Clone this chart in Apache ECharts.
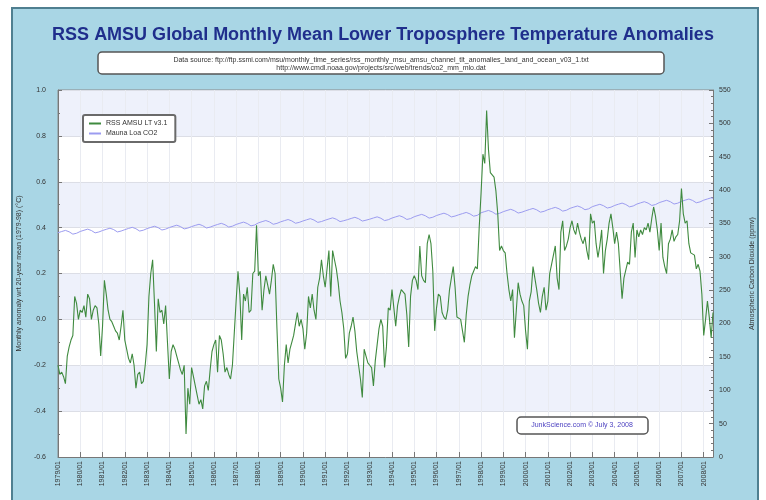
<!DOCTYPE html>
<html>
<head>
<meta charset="utf-8">
<script src="https://cdn.jsdelivr.net/npm/echarts@6.0.0/dist/echarts.min.js"></script>
<style>
	html, body {margin: 0; padding: 0; background: #ffffff;}
	#chart {width: 766px; height: 500px;}
</style>
</head>
<body>
<div id="chart"></div>
<script>
// years shown on the x axis (one category per month, Jan 1979 .. Jun 2008)
var years = [1979, 1980, 1981, 1982, 1983, 1984, 1985, 1986, 1987, 1988, 1989, 1990, 1991, 1992, 1993,
	1994, 1995, 1996, 1997, 1998, 1999, 2000, 2001, 2002, 2003, 2004, 2005, 2006, 2007, 2008];
var months = ['01', '02', '03', '04', '05', '06', '07', '08', '09', '10', '11', '12'];
var lastMonth = 6;

// RSS lower troposphere anomaly, deg C
var rss = [
	-0.20, -0.24, -0.23, -0.25, -0.28, -0.16, -0.12, -0.09, -0.07, 0.10, 0.07, 0.00,
	0.04, 0.03, 0.06, 0.01, 0.11, 0.09, 0.00, 0.04, 0.06, 0.05, -0.02, -0.16,
	-0.03, 0.17, 0.11, 0.04, 0.00, -0.01, -0.03, -0.05, -0.06, -0.09, -0.03, 0.04,
	-0.09, -0.13, -0.17, -0.19, -0.15, -0.20, -0.30, -0.24, -0.23, -0.28, -0.27, -0.20,
	-0.11, 0.10, 0.20, 0.26, 0.07, -0.14, 0.09, 0.03, 0.04, -0.02, 0.06, -0.10,
	-0.26, -0.14, -0.11, -0.13, -0.16, -0.19, -0.22, -0.24, -0.20, -0.50, -0.30, -0.37,
	-0.21, -0.25, -0.29, -0.33, -0.37, -0.35, -0.39, -0.29, -0.27, -0.31, -0.22, -0.14,
	-0.11, -0.09, -0.23, -0.07, -0.09, -0.15, -0.23, -0.21, -0.24, -0.26, -0.20, -0.06,
	0.08, 0.21, 0.11, -0.09, 0.11, 0.08, 0.14, 0.03, 0.04, 0.20, 0.21, 0.41,
	0.19, 0.21, 0.04, 0.13, 0.19, 0.15, 0.11, 0.17, 0.24, 0.20, -0.04, -0.26,
	-0.30, -0.36, -0.20, -0.11, -0.19, -0.13, -0.10, -0.07, -0.02, 0.03, -0.03, 0.00,
	-0.04, -0.13, -0.06, 0.10, 0.05, 0.11, 0.04, 0.00, 0.14, 0.18, 0.26, 0.19,
	0.14, 0.22, 0.30, 0.10, 0.30, 0.26, 0.22, 0.16, 0.08, 0.03, -0.04, -0.17,
	-0.15, -0.06, -0.03, 0.01, -0.05, -0.14, -0.20, -0.26, -0.34, -0.13, -0.16, -0.19,
	-0.20, -0.21, -0.29, -0.18, -0.11, -0.04, 0.00, -0.03, -0.21, -0.12, 0.05, 0.04,
	0.13, 0.05, -0.03, 0.06, 0.10, 0.13, 0.12, 0.11, 0.02, -0.12, 0.10, 0.17,
	0.19, 0.17, 0.13, 0.32, 0.19, 0.17, 0.16, 0.33, 0.37, 0.33, 0.21, -0.05,
	0.05, 0.11, 0.10, 0.03, 0.01, 0.00, 0.04, 0.13, 0.18, 0.23, 0.14, 0.01,
	0.01, 0.00, -0.05, -0.10, 0.02, 0.10, 0.15, 0.19, 0.21, 0.23, 0.22, 0.40,
	0.55, 0.72, 0.68, 0.91, 0.74, 0.64, 0.63, 0.62, 0.56, 0.46, 0.30, 0.32,
	0.30, 0.29, 0.20, 0.13, 0.08, 0.13, -0.08, 0.04, 0.16, 0.11, 0.08, 0.06,
	-0.05, -0.13, 0.08, 0.12, 0.23, 0.18, 0.13, 0.07, 0.03, 0.10, 0.14, 0.04,
	0.08, 0.20, 0.24, 0.28, 0.32, 0.18, 0.13, 0.38, 0.43, 0.30, 0.32, 0.35,
	0.40, 0.43, 0.39, 0.37, 0.42, 0.38, 0.35, 0.33, 0.36, 0.30, 0.26, 0.46,
	0.42, 0.43, 0.33, 0.27, 0.32, 0.39, 0.20, 0.30, 0.35, 0.42, 0.46, 0.40,
	0.33, 0.38, 0.33, 0.33, 0.09, 0.18, 0.18, 0.25, 0.24, 0.38, 0.42, 0.27,
	0.39, 0.36, 0.39, 0.37, 0.40, 0.39, 0.42, 0.38, 0.44, 0.49, 0.45, 0.39,
	0.30, 0.42, 0.27, 0.23, 0.20, 0.33, 0.35, 0.39, 0.34, 0.36, 0.37, 0.43,
	0.57, 0.46, 0.42, 0.43, 0.33, 0.29, 0.29, 0.28, 0.22, 0.24, 0.21, 0.11,
	-0.07, 0.00, 0.08, 0.01, -0.08, 0.03
];

// Mauna Loa CO2, ppmv
var co2 = [
	336.1, 337.0, 337.9, 339.0, 339.6, 339.0, 337.5, 335.6, 334.0, 334.0, 335.3, 336.7,
	338.0, 338.9, 339.8, 340.9, 341.5, 340.9, 339.4, 337.5, 335.9, 335.9, 337.2, 338.6,
	339.4, 340.3, 341.2, 342.3, 342.9, 342.3, 340.8, 338.9, 337.3, 337.3, 338.6, 340.0,
	340.7, 341.6, 342.5, 343.6, 344.2, 343.6, 342.1, 340.2, 338.6, 338.6, 339.9, 341.3,
	342.3, 343.2, 344.1, 345.2, 345.8, 345.2, 343.7, 341.8, 340.2, 340.2, 341.5, 342.9,
	343.9, 344.8, 345.7, 346.8, 347.4, 346.8, 345.3, 343.4, 341.8, 341.8, 343.1, 344.5,
	345.3, 346.2, 347.1, 348.2, 348.8, 348.2, 346.7, 344.8, 343.2, 343.2, 344.5, 345.9,
	346.7, 347.6, 348.5, 349.6, 350.2, 349.6, 348.1, 346.2, 344.6, 344.6, 345.9, 347.3,
	348.5, 349.4, 350.3, 351.4, 352.0, 351.4, 349.9, 348.0, 346.4, 346.4, 347.7, 349.1,
	350.9, 351.8, 352.7, 353.8, 354.4, 353.8, 352.3, 350.4, 348.8, 348.8, 350.1, 351.5,
	352.4, 353.3, 354.2, 355.3, 355.9, 355.3, 353.8, 351.9, 350.3, 350.3, 351.6, 353.0,
	353.7, 354.6, 355.5, 356.6, 357.2, 356.6, 355.1, 353.2, 351.6, 351.6, 352.9, 354.3,
	354.9, 355.8, 356.7, 357.8, 358.4, 357.8, 356.3, 354.4, 352.8, 352.8, 354.1, 355.5,
	355.7, 356.6, 357.5, 358.6, 359.2, 358.6, 357.1, 355.2, 353.6, 353.6, 354.9, 356.3,
	356.4, 357.3, 358.2, 359.3, 359.9, 359.3, 357.8, 355.9, 354.3, 354.3, 355.6, 357.0,
	358.1, 359.0, 359.9, 361.0, 361.6, 361.0, 359.5, 357.6, 356.0, 356.0, 357.3, 358.7,
	360.1, 361.0, 361.9, 363.0, 363.6, 363.0, 361.5, 359.6, 358.0, 358.0, 359.3, 360.7,
	361.9, 362.8, 363.7, 364.8, 365.4, 364.8, 363.3, 361.4, 359.8, 359.8, 361.1, 362.5,
	363.0, 363.9, 364.8, 365.9, 366.5, 365.9, 364.4, 362.5, 360.9, 360.9, 362.2, 363.6,
	366.0, 366.9, 367.8, 368.9, 369.5, 368.9, 367.4, 365.5, 363.9, 363.9, 365.2, 366.6,
	367.7, 368.6, 369.5, 370.6, 371.2, 370.6, 369.1, 367.2, 365.6, 365.6, 366.9, 368.3,
	369.0, 369.9, 370.8, 371.9, 372.5, 371.9, 370.4, 368.5, 366.9, 366.9, 368.2, 369.6,
	370.6, 371.5, 372.4, 373.5, 374.1, 373.5, 372.0, 370.1, 368.5, 368.5, 369.8, 371.2,
	372.7, 373.6, 374.5, 375.6, 376.2, 375.6, 374.1, 372.2, 370.6, 370.6, 371.9, 373.3,
	375.2, 376.1, 377.0, 378.1, 378.7, 378.1, 376.6, 374.7, 373.1, 373.1, 374.4, 375.8,
	377.0, 377.9, 378.8, 379.9, 380.5, 379.9, 378.4, 376.5, 374.9, 374.9, 376.2, 377.6,
	379.1, 380.0, 380.9, 382.0, 382.6, 382.0, 380.5, 378.6, 377.0, 377.0, 378.3, 379.7,
	381.2, 382.1, 383.0, 384.1, 384.7, 384.1, 382.6, 380.7, 379.1, 379.1, 380.4, 381.8,
	383.1, 384.0, 384.9, 386.0, 386.6, 386.0, 384.5, 382.6, 381.0, 381.0, 382.3, 383.7,
	384.9, 385.8, 386.7, 387.8, 388.4, 387.8
];

var cats = [];
for (var i = 0; i < years.length; i++) {
	var n = (i == years.length - 1) ? lastMonth : 12;
	for (var j = 0; j < n; j++) {
		cats.push(years[i] + '/' + months[j]);
	}
}

var txtFont = "'Liberation Sans', Arial, sans-serif";
var myChart = echarts.init(document.getElementById('chart'));

var option = {
	backgroundColor: '#ffffff',
	animation: false,
	title: {
		text: 'RSS AMSU Global Monthly Mean Lower Troposphere Temperature Anomalies',
		left: 'center',
		top: 21,
		textStyle: {
			fontFamily: txtFont,
			fontSize: 18,
			fontWeight: 'bold',
			color: '#1f2e8c'
		}
	},
	legend: {
		orient: 'vertical',
		left: 83,
		top: 115,
		backgroundColor: '#ffffff',
		borderColor: '#6a6a6a',
		borderWidth: 2,
		borderRadius: 2,
		padding: [5, 8, 5, 6],
		itemGap: 3,
		itemWidth: 12,
		itemHeight: 2,
		textStyle: {fontFamily: txtFont, fontSize: 7, color: '#333'},
		data: [
			{name: 'RSS AMSU LT v3.1', icon: 'rect'},
			{name: 'Mauna Loa CO2', icon: 'rect'}
		]
	},
	grid: {
		left: 58,
		right: 53,
		top: 90,
		bottom: 43,
		show: true,
		backgroundColor: '#ffffff',
		borderColor: '#8a8a8a',
		borderWidth: 1
	},
	graphic: [
		{
			type: 'rect', z: -10, silent: true,
			shape: {x: 12, y: 8, width: 746, height: 500},
			style: {fill: '#a9d6e5', stroke: '#4f7f90', lineWidth: 2}
		},
		{
			type: 'rect', z: 5, silent: true,
			shape: {x: 98, y: 52, width: 566, height: 22, r: 4},
			style: {fill: '#ffffff', stroke: '#555555', lineWidth: 1.5}
		},
		{
			type: 'text', z: 6, silent: true,
			x: 381, y: 57,
			style: {
				text: 'Data source: ftp://ftp.ssmi.com/msu/monthly_time_series/rss_monthly_msu_amsu_channel_tlt_anomalies_land_and_ocean_v03_1.txt',
				font: '7px ' + txtFont, fill: '#333', align: 'center'
			}
		},
		{
			type: 'text', z: 6, silent: true,
			x: 381, y: 65,
			style: {
				text: 'http://www.cmdl.noaa.gov/projects/src/web/trends/co2_mm_mlo.dat',
				font: '7px ' + txtFont, fill: '#333', align: 'center'
			}
		},
		{
			type: 'rect', z: 5, silent: true,
			shape: {x: 517, y: 417, width: 131, height: 17, r: 4},
			style: {fill: '#ffffff', stroke: '#555555', lineWidth: 1.5}
		},
		{
			type: 'text', z: 6, silent: true,
			x: 582, y: 422,
			style: {
				text: 'JunkScience.com © July 3, 2008',
				font: '7px ' + txtFont, fill: '#4a3fc0', align: 'center'
			}
		}
	],
	xAxis: {
		type: 'category',
		data: cats,
		boundaryGap: false,
		axisLine: {onZero: false, lineStyle: {color: '#777', width: 1}},
		axisTick: {show: true, inside: true, interval: 11, length: 5, lineStyle: {color: '#777'}},
		axisLabel: {
			interval: 11,
			rotate: 90,
			fontFamily: txtFont,
			fontSize: 7,
			color: '#333',
			margin: 4
		},
		splitLine: {show: true, interval: 11, lineStyle: {color: '#e9ebf1', width: 1}}
	},
	yAxis: [
		{
			type: 'value',
			min: -0.6,
			max: 1.0,
			interval: 0.2,
			name: 'Monthly anomaly wrt 20-year mean (1979-98) (°C)',
			nameLocation: 'middle',
			nameRotate: 90,
			nameGap: 34,
			nameTextStyle: {fontFamily: txtFont, fontSize: 7, color: '#333'},
			axisLine: {show: true, lineStyle: {color: '#777'}},
			axisTick: {show: true, inside: true, length: 4, lineStyle: {color: '#777'}},
			minorTick: {show: true, splitNumber: 2, length: 2, lineStyle: {color: '#777'}},
			axisLabel: {
				fontFamily: txtFont, fontSize: 7, color: '#333', margin: 12,
				formatter: function (v) { return v.toFixed(1); }
			},
			splitLine: {show: true, lineStyle: {color: '#dcdee6'}},
			splitArea: {show: true, areaStyle: {color: ['#ffffff', '#eef1fb']}}
		},
		{
			type: 'value',
			min: 0,
			max: 550,
			interval: 50,
			name: 'Atmospheric Carbon Dioxide (ppmv)',
			nameLocation: 'middle',
			nameRotate: 90,
			nameGap: 36,
			nameTextStyle: {fontFamily: txtFont, fontSize: 7, color: '#333'},
			axisLine: {show: true, lineStyle: {color: '#777'}},
			axisTick: {show: true, inside: true, length: 4, lineStyle: {color: '#777'}},
			minorTick: {show: true, splitNumber: 5, length: 2, lineStyle: {color: '#777'}},
			axisLabel: {fontFamily: txtFont, fontSize: 7, color: '#333', margin: 6},
			splitLine: {show: false}
		}
	],
	series: [
		{
			name: 'RSS AMSU LT v3.1',
			type: 'line',
			yAxisIndex: 0,
			data: rss,
			symbol: 'none',
			color: '#3f8a3f',
			lineStyle: {color: '#3f8a3f', width: 1.1},
			z: 3
		},
		{
			name: 'Mauna Loa CO2',
			type: 'line',
			yAxisIndex: 1,
			data: co2,
			symbol: 'none',
			color: '#9c9cf0',
			lineStyle: {color: '#9c9cf0', width: 1},
			z: 2
		}
	]
};

myChart.setOption(option);
</script>
</body>
</html>
